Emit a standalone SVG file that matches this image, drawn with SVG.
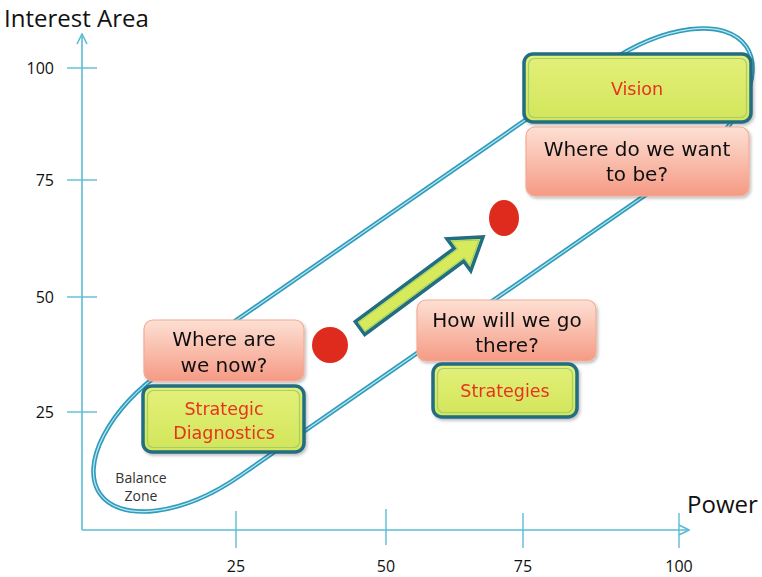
<svg xmlns="http://www.w3.org/2000/svg" width="762" height="577" viewBox="0 0 762 577">
<defs>
<linearGradient id="pink" x1="0" y1="0" x2="0" y2="1">
<stop offset="0" stop-color="#fde0d4"/>
<stop offset="1" stop-color="#f59a84"/>
</linearGradient>
<linearGradient id="green" x1="0" y1="0" x2="0" y2="1">
<stop offset="0" stop-color="#e4f07a"/>
<stop offset="1" stop-color="#d2e55a"/>
</linearGradient>
<filter id="sh" x="-10%" y="-10%" width="125%" height="130%">
<feDropShadow dx="1.5" dy="2" stdDeviation="1.5" flood-color="#000" flood-opacity="0.25"/>
</filter>
<marker id="ah" viewBox="0 0 12 12" refX="11" refY="6" markerWidth="12" markerHeight="12" markerUnits="userSpaceOnUse" orient="auto">
<path d="M1,1 L11,6 L1,11" fill="none" stroke="#5bbcd5" stroke-width="1.6"/>
</marker>
<style>
.axis{stroke:#5bbcd5;stroke-width:1.6;fill:none}
.tick{stroke:#5bbcd5;stroke-width:1.4}
.tl{font-family:"Open Sans","Noto Sans",sans-serif;font-size:16px;fill:#111}
.ax{font-family:"Open Sans","Noto Sans",sans-serif;font-size:24px;fill:#111}
.pbox{fill:url(#pink);stroke:#f3ab94;stroke-width:1.2}
.gbox{fill:url(#green);stroke:#216d82;stroke-width:3.5}
.gin{fill:none;stroke:#a4cf6a;stroke-width:1.2}
.bt{font-family:"DejaVu Sans","Noto Sans",sans-serif;font-size:20px;fill:#111;text-anchor:middle}
.rt{font-family:"DejaVu Sans","Noto Sans",sans-serif;font-size:17.5px;fill:#e8321f;text-anchor:middle}
.dot{fill:#df2a1e}
</style>
</defs>
<rect width="762" height="577" fill="#fff"/>
<g id="axes">
<line class="axis" x1="82" y1="530" x2="82" y2="34" marker-end="url(#ah)"/>
<line class="axis" x1="82" y1="530" x2="689" y2="530" marker-end="url(#ah)"/>
<line class="tick" x1="67" y1="68" x2="97" y2="68"/>
<line class="tick" x1="67" y1="180" x2="97" y2="180"/>
<line class="tick" x1="67" y1="297" x2="97" y2="297"/>
<line class="tick" x1="67" y1="412" x2="97" y2="412"/>
<line class="tick" x1="236" y1="511" x2="236" y2="548"/>
<line class="tick" x1="386" y1="509" x2="386" y2="545"/>
<line class="tick" x1="523" y1="513" x2="523" y2="548"/>
<line class="tick" x1="679" y1="513" x2="679" y2="548"/>
<text class="tl" x="54" y="74" text-anchor="end">100</text>
<text class="tl" x="54" y="186" text-anchor="end">75</text>
<text class="tl" x="54" y="303" text-anchor="end">50</text>
<text class="tl" x="54" y="418" text-anchor="end">25</text>
<text class="tl" x="236" y="572" text-anchor="middle">25</text>
<text class="tl" x="386" y="572" text-anchor="middle">50</text>
<text class="tl" x="523" y="572" text-anchor="middle">75</text>
<text class="tl" x="679" y="572" text-anchor="middle">100</text>
<text class="ax" x="4" y="27">Interest Area</text>
<text class="ax" x="687" y="513">Power</text>
</g>
<g id="zone">
<g transform="translate(423,270) rotate(-34.7)">
<rect x="-393" y="-65" width="786" height="130" rx="125" ry="65" fill="none" stroke="#2e9cbd" stroke-width="4.5"/>
<rect x="-393" y="-65" width="786" height="130" rx="125" ry="65" fill="none" stroke="#bfe6f0" stroke-width="1.2"/>
</g>
<text x="141" y="483" font-family="'Open Sans','Noto Sans',sans-serif" font-size="14" fill="#333" text-anchor="middle">Balance</text>
<text x="141" y="501" font-family="'Open Sans','Noto Sans',sans-serif" font-size="14" fill="#333" text-anchor="middle">Zone</text>
</g>
<g id="connectors">
<g transform="translate(360,328) rotate(-36.5)">
<path d="M0,-8 L123,-8 L123,-20 L153,0 L123,20 L123,8 L0,8 Z" fill="#d6ea5c" stroke="#216d82" stroke-width="3.5" stroke-linejoin="miter"/>
<path d="M2,-5.5 L125.5,-5.5 L125.5,-15 L148,0 L125.5,15 L125.5,5.5 L2,5.5 Z" fill="none" stroke="#a4cf6a" stroke-width="1"/>
</g>
</g>
<g id="dot-now"><circle class="dot" cx="330" cy="345" r="18"/></g>
<g id="dot-future"><ellipse class="dot" cx="504" cy="218" rx="15" ry="18"/></g>
<g id="q-now" filter="url(#sh)">
<rect class="pbox" x="144" y="320" width="160" height="61" rx="9"/>
<text class="bt" x="224" y="346">Where are</text>
<text class="bt" x="224" y="372">we now?</text>
</g>
<g id="diagnostics" filter="url(#sh)">
<rect class="gbox" x="143" y="386" width="161" height="66" rx="9"/>
<rect class="gin" x="147.5" y="390.5" width="152" height="57" rx="6"/>
<text class="rt" x="224" y="415">Strategic</text>
<text class="rt" x="224" y="439">Diagnostics</text>
</g>
<g id="q-how" filter="url(#sh)">
<rect class="pbox" x="417" y="300" width="179" height="61" rx="9"/>
<text class="bt" x="507" y="327">How will we go</text>
<text class="bt" x="507" y="352">there?</text>
</g>
<g id="strategies" filter="url(#sh)">
<rect class="gbox" x="433" y="364" width="144" height="53" rx="9"/>
<rect class="gin" x="437.5" y="368.5" width="135" height="44" rx="6"/>
<text class="rt" x="505" y="397">Strategies</text>
</g>
<g id="vision" filter="url(#sh)">
<rect class="gbox" x="524" y="54" width="227" height="68" rx="9"/>
<rect class="gin" x="528.5" y="58.5" width="218" height="59" rx="6"/>
<text class="rt" x="637" y="95">Vision</text>
</g>
<g id="q-want" filter="url(#sh)">
<rect class="pbox" x="526" y="127" width="223" height="69" rx="9"/>
<text class="bt" x="637" y="156">Where do we want</text>
<text class="bt" x="637" y="181">to be?</text>
</g>
</svg>
